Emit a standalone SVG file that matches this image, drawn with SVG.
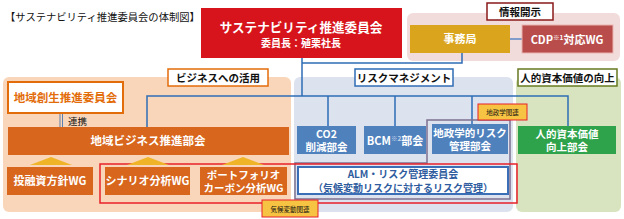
<svg xmlns="http://www.w3.org/2000/svg" width="624" height="219" viewBox="0 0 624 219">
<defs>
<style>
text{font-family:"Noto Sans CJK JP","Noto Sans",sans-serif;font-weight:bold;text-anchor:middle}
.w{fill:#fff}
.k{fill:#111}
.conn{fill:none;stroke:#2f6db5;stroke-width:1.5}
.org{fill:#d8661c}
.blu{fill:#4f81bd}
.tri{fill:#f0b429}
.tag{fill:#f6c342;stroke:#e8202a;stroke-width:1}
</style>
</defs>
<rect width="624" height="219" fill="#fff"/>
<text x="5" y="21" class="k" style="text-anchor:start;font-weight:normal" font-size="10.3">【サステナビリティ推進委員会の体制図】</text>

<!-- section backgrounds -->
<rect x="407" y="13" width="213" height="48" rx="6" fill="#f2dcdb"/>
<rect x="3" y="77" width="288" height="135" rx="6" fill="#f9d6b9"/>
<rect x="294" y="77" width="219" height="135" rx="6" fill="#dce3ef"/>
<rect x="516" y="77" width="105" height="135" rx="6" fill="#d8e4bf"/>

<!-- connectors -->
<g id="connectors">
<path class="conn" d="M302 58V96M462 53V63H302M147 128V96H568V126M328 96V126M395 96V126M472 96V124"/>
<path d="M510 39H522" fill="none" stroke="#5b86c4" stroke-width="1.5"/>
<path d="M60 113V128M62.5 113V128" fill="none" stroke="#5b7fb0" stroke-width="1"/>
<path d="M427 120H510V199H295V163H427Z" fill="none" stroke="#7d7290" stroke-width="1.5"/>
<rect x="100" y="164" width="417" height="39" fill="none" stroke="#e8202a" stroke-width="1.5"/>
</g>

<g id="main">
<rect x="201" y="8" width="201" height="50" fill="#d7141b"/>
<text x="301" y="32" class="w" font-size="12.6">サステナビリティ推進委員会</text>
<text x="301" y="47" class="w" font-size="10">委員長：殖栗社長</text>
</g>

<g id="label-info">
<rect x="487" y="3" width="66" height="17" fill="#fff" stroke="#8b1a1a" stroke-width="1.5"/>
<text x="520" y="16" class="k" font-size="10.5">情報開示</text>
</g>
<g id="jimukyoku">
<rect x="410" y="25" width="100" height="28" fill="#daa51c"/>
<text x="460" y="43" class="w" font-size="11">事務局</text>
</g>
<g id="cdp">
<rect x="522" y="25" width="91" height="28" fill="#b94d4b" stroke="#e7b3b0" stroke-width="1"/>
<text x="567" y="43.5" class="w" font-size="11">CDP<tspan font-size="6.5" dy="-4">※1</tspan><tspan dy="4">対応WG</tspan></text>
</g>

<g id="label-business">
<rect x="168" y="69" width="100" height="17" fill="#fff" stroke="#e36c0a" stroke-width="1.5"/>
<text x="218" y="82" class="k" font-size="10.5">ビジネスへの活用</text>
</g>
<g id="label-risk">
<rect x="355" y="69" width="98" height="17" fill="#fff" stroke="#2e6bb5" stroke-width="1.5"/>
<text x="404" y="82" class="k" font-size="10.5">リスクマネジメント</text>
</g>
<g id="label-human">
<rect x="518" y="69" width="99" height="17" fill="#fff" stroke="#66791f" stroke-width="1.5"/>
<text x="567.5" y="82" class="k" font-size="10.5">人的資本価値の向上</text>
</g>

<g id="chiiki-sousei">
<rect x="8" y="82" width="115" height="31" fill="#fff" stroke="#e36c0a" stroke-width="2"/>
<text x="65.5" y="102" font-size="11.5" fill="#e36c0a">地域創生推進委員会</text>
</g>
<text x="68" y="125" class="k" font-size="9.5" style="text-anchor:start;font-weight:normal">連携</text>

<g id="chiiki-business">
<rect x="8" y="127" width="281" height="28" class="org"/>
<text x="148" y="145" class="w" font-size="11.5">地域ビジネス推進部会</text>
</g>

<polygon class="tri" points="30,165 51,157 72,165"/>
<polygon class="tri" points="127,165 148,157 169,165"/>
<polygon class="tri" points="222,165 243,157 264,165"/>

<g id="wg-toyushi">
<rect x="7" y="167" width="86" height="28" class="org"/>
<text x="50" y="185" class="w" font-size="11">投融資方針WG</text>
</g>
<g id="wg-scenario">
<rect x="105" y="167" width="85" height="28" class="org"/>
<text x="147.5" y="185" class="w" font-size="11">シナリオ分析WG</text>
</g>
<g id="wg-portfolio">
<rect x="200" y="167" width="87" height="28" class="org"/>
<text x="243.5" y="178.5" class="w" font-size="10.5">ポートフォリオ</text>
<text x="243.5" y="192" class="w" font-size="10.5">カーボン分析WG</text>
</g>

<g id="co2">
<rect x="297" y="126" width="59" height="28" class="blu"/>
<text x="326.5" y="137.5" class="w" font-size="10.5">CO2</text>
<text x="326.5" y="151" class="w" font-size="10.5">削減部会</text>
</g>
<g id="bcm">
<rect x="364" y="126" width="62" height="28" class="blu"/>
<text x="395" y="145" class="w" font-size="11">BCM<tspan font-size="6.5" dy="-4" fill="#c9d6ea">※2</tspan><tspan dy="4">部会</tspan></text>
</g>
<g id="chiseigaku">
<rect x="432" y="124" width="76" height="30" class="blu"/>
<text x="470" y="136.5" class="w" font-size="10.5">地政学的リスク</text>
<text x="470" y="150" class="w" font-size="10.5">管理部会</text>
</g>
<g id="alm">
<rect x="298" y="167" width="210" height="27" fill="#fff" stroke="#3a6fb7" stroke-width="2"/>
<text x="403" y="178" font-size="10" fill="#2e5c9e">ALM・リスク管理委員会</text>
<text x="403" y="191.5" font-size="10" fill="#2e5c9e">（気候変動リスクに対するリスク管理）</text>
</g>
<g id="jinteki">
<rect x="518" y="126" width="98" height="28" fill="#2ea34b"/>
<text x="567" y="137.5" class="w" font-size="10.5">人的資本価値</text>
<text x="567" y="151" class="w" font-size="10.5">向上部会</text>
</g>

<g id="tag-chiseigaku">
<rect x="478" y="104" width="49" height="16" class="tag"/>
<text x="502.5" y="115" class="k" font-size="6.5" style="font-weight:normal">地政学関連</text>
</g>
<g id="tag-kikou">
<rect x="262" y="200" width="56" height="17" class="tag"/>
<text x="290" y="211.5" class="k" font-size="6.5" style="font-weight:normal">気候変動関連</text>
</g>
</svg>
